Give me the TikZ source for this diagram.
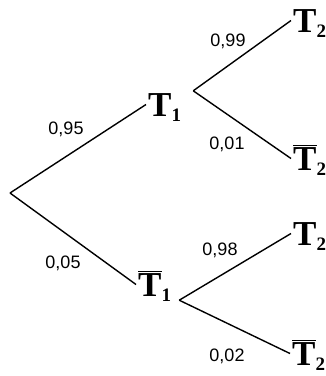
\documentclass[tikz,border=0pt]{standalone}
\usepackage{fontspec}
\setmainfont{Liberation Serif}
\setsansfont{Liberation Sans}
\usepackage{tikz}
\usetikzlibrary{positioning}
\newcommand{\evt}[1]{T\raisebox{-5pt}{\fontsize{19}{19}\selectfont #1}}
\newcommand{\evtbar}[1]{$\overline{\hbox{T}}$\raisebox{-5pt}{\fontsize{19}{19}\selectfont #1}}

\begin{document}
\begin{tikzpicture}[x=1pt, y=-1pt,
  event/.style={font=\fontsize{35}{35}\selectfont\bfseries, inner sep=2pt,
                text height=23pt, text depth=0pt, anchor=base west},
  prob/.style={font=\sffamily\fontsize{18}{18}\selectfont, inner sep=0pt},
  branch/.style={line width=1.4pt}]
  \useasboundingbox (0,0) rectangle (326,376);

  % events
  \coordinate (root) at (10,193);
  \node[event] (t1)  at (146,116) {\evt{1}};
  \node[event] (t1b) at (136,296) {\evtbar{1}};
  \node[event] (t2a) at (291,32)  {\evt{2}};
  \node[event] (t2b) at (291,170) {\evtbar{2}};
  \node[event] (t2c) at (291,245) {\evt{2}};
  \node[event] (t2d) at (290,365) {\evtbar{2}};

  % branches
  \draw[branch] (root) -- (t1.west);
  \draw[branch] (root) -- (t1b.west);
  \draw[branch] ([shift={(10,0)}]t1.north east) -- (t2a.west);
  \draw[branch] ([shift={(10,0)}]t1.north east) -- (t2b.west);
  \draw[branch] ([shift={(6,2)}]t1b.south east) -- (t2c.west);
  \draw[branch] ([shift={(6,2)}]t1b.south east) -- (t2d.west);

  % probabilities
  \node[prob] (p95) at (66,129) {0,95};
  \node[prob] (p05) at (63,263) {0,05};
  \node[prob] (p99) at (228,41) {0,99};
  \node[prob] (p01) at (227,144) {0,01};
  \node[prob] (p98) at (220,250) {0,98};
  \node[prob] (p02) at (227,356) {0,02};
\end{tikzpicture}
\end{document}
